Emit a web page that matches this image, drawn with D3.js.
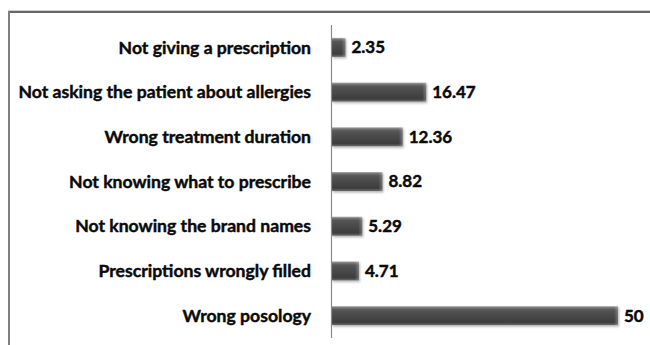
<!DOCTYPE html>
<html>
<head>
<meta charset="utf-8">
<script src="https://cdn.jsdelivr.net/npm/d3@7/dist/d3.min.js"></script>
<style>
  html, body { margin: 0; padding: 0; background: #fff; }
  svg { display: block; }
  text { font-family: Lato, "Open Sans", sans-serif; font-weight: 700; fill: #0a0a0a;
         stroke: #0a0a0a; stroke-width: 0.45px; }
</style>
</head>
<body>
<svg id="chart" width="650" height="345"></svg>
<script>
// Prescription error categories (top to bottom) and their percentages
const categories = [
  "Not giving a prescription",
  "Not asking the patient about allergies",
  "Wrong treatment duration",
  "Not knowing what to prescribe",
  "Not knowing the brand names",
  "Prescriptions wrongly filled",
  "Wrong posology"
];
const values = [2.35, 16.47, 12.36, 8.82, 5.29, 4.71, 50];
const valueLabels = ["2.35", "16.47", "12.36", "8.82", "5.29", "4.71", "50"];

const svg = d3.select("#chart");
const W = 650, H = 345;

// Frame: dark top rule and grey left rule
svg.append("line").attr("x1", 8).attr("x2", W).attr("y1", 11.5).attr("y2", 11.5)
  .attr("stroke", "#cfcfcf").attr("stroke-width", 3);
svg.append("line").attr("x1", 8).attr("x2", W).attr("y1", 12).attr("y2", 12)
  .attr("stroke", "#444").attr("stroke-width", 1.5);
svg.append("line").attr("x1", 9).attr("x2", 9).attr("y1", 11).attr("y2", H)
  .attr("stroke", "#808080").attr("stroke-width", 2);

const x = d3.scaleLinear().domain([0, 50]).range([332, 618]);
const y = d3.scaleBand().domain(categories).range([25, 338])
  .paddingInner(0.575).paddingOuter(0.2875);

// Bar shading: light top edge, dark body, lighter lower rim
const defs = svg.append("defs");
const grad = defs.append("linearGradient").attr("id", "barGrad")
  .attr("x1", 0).attr("x2", 0).attr("y1", 0).attr("y2", 1);
[[0, "#b0b0b0"], [0.08, "#777"], [0.2, "#555"], [0.55, "#474747"], [0.85, "#3d3d3d"], [1, "#6a6a6a"]]
  .forEach(([o, c]) => grad.append("stop").attr("offset", o).attr("stop-color", c));
const endGrad = defs.append("linearGradient").attr("id", "endGrad")
  .attr("x1", 0).attr("x2", 1).attr("y1", 0).attr("y2", 0);
endGrad.append("stop").attr("offset", 0).attr("stop-color", "#fff").attr("stop-opacity", 0);
endGrad.append("stop").attr("offset", 1).attr("stop-color", "#fff").attr("stop-opacity", 0.25);
const shadow = defs.append("filter").attr("id", "shadow")
  .attr("x", "-10%").attr("y", "-30%").attr("width", "130%").attr("height", "180%");
shadow.append("feDropShadow").attr("dx", 1).attr("dy", 1.5).attr("stdDeviation", 1)
  .attr("flood-color", "#000").attr("flood-opacity", 0.3);

const rows = categories.map((c, i) => ({ cat: c, val: values[i], label: valueLabels[i] }));

// Bars
const bars = svg.append("g").selectAll("g").data(rows).join("g");
bars.append("rect")
  .attr("x", x(0)).attr("y", d => y(d.cat))
  .attr("width", d => x(d.val) - x(0)).attr("height", y.bandwidth())
  .attr("fill", "url(#barGrad)").attr("filter", "url(#shadow)");
bars.append("rect")
  .attr("x", d => Math.max(x(0), x(d.val) - 4)).attr("y", d => y(d.cat))
  .attr("width", d => Math.min(4, x(d.val) - x(0))).attr("height", y.bandwidth())
  .attr("fill", "url(#endGrad)");

// Vertical category axis line
svg.append("line").attr("x1", x(0) - 0.5).attr("x2", x(0) - 0.5)
  .attr("y1", y.range()[0]).attr("y2", y.range()[1])
  .attr("stroke", "#8a8a8a").attr("stroke-width", 1.2);

// Category labels
svg.append("g").selectAll("text").data(rows).join("text")
  .attr("x", 311).attr("y", d => y(d.cat) + y.bandwidth() / 2)
  .attr("dy", "0.35em").attr("text-anchor", "end")
  .style("font-size", "17.6px").style("letter-spacing", "0px")
  .text(d => d.cat);

// Value labels
svg.append("g").selectAll("text").data(rows).join("text")
  .attr("x", d => x(d.val) + 6).attr("y", d => y(d.cat) + y.bandwidth() / 2)
  .attr("dy", "0.35em").attr("text-anchor", "start")
  .style("font-size", "17px")
  .text(d => d.label);
</script>
</body>
</html>
